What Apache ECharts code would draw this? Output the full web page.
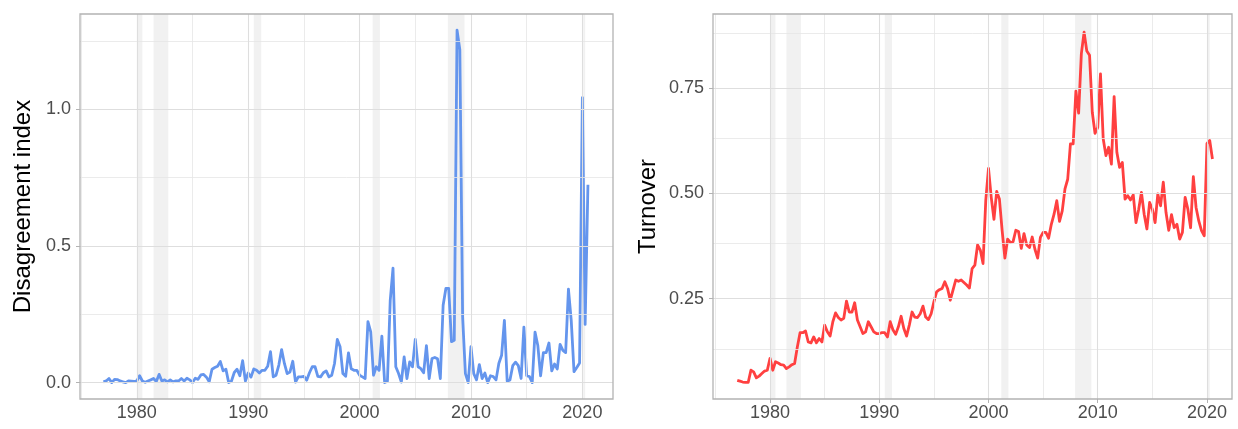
<!DOCTYPE html>
<html>
<head>
<meta charset="utf-8">
<script src="https://cdn.jsdelivr.net/npm/echarts@6/dist/echarts.min.js"></script>
<style>
  html, body { margin: 0; padding: 0; background: #fff; }
  #chart { width: 1238px; height: 429px; }
</style>
</head>
<body>
<div id="chart"></div>
<script>
// Quarterly series, 1977 Q1 through 2020 Q3
const disagreement = [
  0.003, 0.006, 0.015, 0.000,   // 1977
  0.012, 0.011, 0.006, 0.003,   // 1978
  0.000, 0.006, 0.005, 0.004,   // 1979
  0.006, 0.025, 0.006, 0.001,   // 1980
  0.006, 0.010, 0.015, 0.004,   // 1981
  0.030, 0.006, 0.010, 0.003,   // 1982
  0.010, 0.003, 0.006, 0.006,   // 1983
  0.015, 0.006, 0.016, 0.010,   // 1984
  0.000, 0.016, 0.012, 0.028,   // 1985
  0.030, 0.020, 0.003, 0.049,   // 1986
  0.055, 0.060, 0.077, 0.043,   // 1987
  0.049, 0.000, 0.006, 0.037,   // 1988
  0.049, 0.025, 0.080, 0.006,   // 1989
  0.035, 0.020, 0.050, 0.045,   // 1990
  0.035, 0.045, 0.045, 0.060,   // 1991
  0.113, 0.021, 0.027, 0.064,   // 1992
  0.121, 0.070, 0.033, 0.039,   // 1993
  0.078, 0.002, 0.021, 0.021,   // 1994
  0.023, 0.009, 0.036, 0.058,   // 1995
  0.058, 0.023, 0.021, 0.036,   // 1996
  0.043, 0.021, 0.027, 0.070,   // 1997
  0.158, 0.131, 0.033, 0.023,   // 1998
  0.109, 0.051, 0.045, 0.045,   // 1999
  0.027, 0.021, 0.015, 0.223,   // 2000
  0.186, 0.027, 0.058, 0.045,   // 2001
  0.170, 0.000, 0.005, 0.300,   // 2002
  0.419, 0.058, 0.033, 0.002,   // 2003
  0.094, 0.015, 0.076, 0.058,   // 2004
  0.158, 0.058, 0.051, 0.036,   // 2005
  0.135, 0.015, 0.088, 0.092,   // 2006
  0.087, 0.015, 0.283, 0.345,   // 2007
  0.345, 0.150, 0.155, 1.290,   // 2008
  1.218, 0.240, 0.033, 0.000,   // 2009
  0.132, 0.033, 0.010, 0.066,   // 2010
  0.015, 0.035, 0.000, 0.025,   // 2011
  0.022, 0.010, 0.070, 0.100,   // 2012
  0.228, 0.005, 0.010, 0.062,   // 2013
  0.075, 0.062, 0.015, 0.203,   // 2014
  0.025, 0.022, 0.000, 0.185,   // 2015
  0.136, 0.025, 0.110, 0.110,   // 2016
  0.145, 0.043, 0.068, 0.050,   // 2017
  0.140, 0.118, 0.110, 0.342,   // 2018
  0.228, 0.040, 0.055, 0.072,   // 2019
  1.043, 0.213, 0.724           // 2020
];

const turnover = [
  0.056, 0.054, 0.052, 0.051,   // 1977
  0.051, 0.080, 0.076, 0.062,   // 1978
  0.066, 0.072, 0.078, 0.080,   // 1979
  0.108, 0.080, 0.100, 0.097,   // 1980
  0.093, 0.092, 0.084, 0.088,   // 1981
  0.093, 0.096, 0.135, 0.169,   // 1982
  0.169, 0.173, 0.147, 0.145,   // 1983
  0.159, 0.145, 0.155, 0.147,   // 1984
  0.187, 0.171, 0.161, 0.195,   // 1985
  0.216, 0.205, 0.199, 0.203,   // 1986
  0.244, 0.218, 0.218, 0.240,   // 1987
  0.199, 0.183, 0.167, 0.171,   // 1988
  0.195, 0.183, 0.171, 0.167,   // 1989
  0.167, 0.169, 0.169, 0.159,   // 1990
  0.195, 0.176, 0.165, 0.183,   // 1991
  0.208, 0.179, 0.161, 0.187,   // 1992
  0.218, 0.206, 0.205, 0.214,   // 1993
  0.232, 0.206, 0.200, 0.214,   // 1994
  0.242, 0.266, 0.271, 0.274,   // 1995
  0.290, 0.274, 0.246, 0.270,   // 1996
  0.294, 0.291, 0.294, 0.288,   // 1997
  0.282, 0.275, 0.321, 0.329,   // 1998
  0.377, 0.365, 0.333, 0.483,   // 1999
  0.559, 0.490, 0.438, 0.504,   // 2000
  0.486, 0.411, 0.346, 0.391,   // 2001
  0.383, 0.385, 0.412, 0.409,   // 2002
  0.369, 0.404, 0.377, 0.371,   // 2003
  0.396, 0.367, 0.346, 0.395,   // 2004
  0.407, 0.407, 0.393, 0.426,   // 2005
  0.450, 0.482, 0.433, 0.458,   // 2006
  0.510, 0.533, 0.617, 0.617,   // 2007
  0.742, 0.690, 0.831, 0.882,   // 2008
  0.837, 0.827, 0.692, 0.642,   // 2009
  0.656, 0.783, 0.629, 0.589,   // 2010
  0.609, 0.569, 0.729, 0.597,   // 2011
  0.561, 0.573, 0.486, 0.494,   // 2012
  0.484, 0.496, 0.430, 0.462,   // 2013
  0.502, 0.450, 0.415, 0.478,   // 2014
  0.462, 0.430, 0.498, 0.470,   // 2015
  0.526, 0.454, 0.412, 0.449,   // 2016
  0.418, 0.426, 0.391, 0.407,   // 2017
  0.490, 0.462, 0.418, 0.539,   // 2018
  0.466, 0.434, 0.411, 0.399,   // 2019
  0.618, 0.625, 0.581           // 2020
];

// Quarter start dates as decimal years
const quarters = disagreement.map((_, i) => 1977 + i / 4);

// Tick labels and gridline positions
const yearTicks = [1980, 1990, 2000, 2010, 2020];
const yearMinor = [1975, 1985, 1995, 2005, 2015];
const disagreementTicks = [0, 0.5, 1.0];
const disagreementMinor = [0.25, 0.75, 1.25];
const turnoverTicks = [0.25, 0.5, 0.75];
const turnoverMinor = [0.125, 0.375, 0.625, 0.875];

// NBER recessions (start, end) in decimal years
const recessions = [
  [1980.00, 1980.50],
  [1981.50, 1982.83],
  [1990.50, 1991.17],
  [2001.17, 2001.83],
  [2007.92, 2009.42],
  [2020.08, 2020.25]
];

const FONT = '"Liberation Sans", Arial, sans-serif';
const MAJOR = { color: '#dedede', width: 1.1, type: 'solid' };
const MINOR = { color: '#e6e6e6', width: 0.8, type: 'solid' };

function gridLines(xMajor, xMinor, yMajor, yMinor) {
  const d = [];
  xMinor.forEach(v => d.push({ xAxis: v, lineStyle: MINOR }));
  yMinor.forEach(v => d.push({ yAxis: v, lineStyle: MINOR }));
  xMajor.forEach(v => d.push({ xAxis: v, lineStyle: MAJOR }));
  yMajor.forEach(v => d.push({ yAxis: v, lineStyle: MAJOR }));
  return d;
}

function xAxisFor(gridIndex, min, max) {
  return {
    type: 'value', gridIndex, min, max,
    axisLine: { show: false },
    splitLine: { show: false },
    axisTick: { show: true, length: 4, customValues: yearTicks,
                lineStyle: { color: '#b3b3b3', width: 1 } },
    axisLabel: { customValues: yearTicks, margin: 5, fontSize: 18,
                 color: '#4d4d4d', fontFamily: FONT,
                 formatter: v => String(Math.round(v)) }
  };
}

function yAxisFor(gridIndex, min, max, ticks, digits, name, gap) {
  return {
    type: 'value', gridIndex, min, max,
    name, nameLocation: 'middle', nameGap: gap,
    nameTextStyle: { fontSize: 24, color: '#000', fontFamily: FONT },
    axisLine: { show: false },
    splitLine: { show: false },
    axisTick: { show: true, length: 4, customValues: ticks,
                lineStyle: { color: '#b3b3b3', width: 1 } },
    axisLabel: { customValues: ticks, margin: 9, fontSize: 18,
                 color: '#4d4d4d', fontFamily: FONT,
                 formatter: v => v.toFixed(digits) }
  };
}

function panelSeries(idx, values, color, yMajor, yMinor) {
  return [
    {
      type: 'line', xAxisIndex: idx, yAxisIndex: idx, data: [], z: 1, silent: true,
      markLine: { silent: true, symbol: ['none', 'none'], label: { show: false },
                  animation: false, data: gridLines(yearTicks, yearMinor, yMajor, yMinor) }
    },
    {
      type: 'line', xAxisIndex: idx, yAxisIndex: idx, data: [], z: 2, silent: true,
      markArea: { silent: true, animation: false,
                  itemStyle: { color: 'rgba(0,0,0,0.055)' },
                  data: recessions.map(([a, b]) => [{ xAxis: a }, { xAxis: b }]) }
    },
    {
      type: 'line', xAxisIndex: idx, yAxisIndex: idx, z: 3,
      showSymbol: false, symbol: 'none',
      lineStyle: { color, width: 2.8, join: 'round' },
      data: quarters.map((q, i) => [q, values[i]])
    }
  ];
}

const chart = echarts.init(document.getElementById('chart'), null, { renderer: 'canvas' });
chart.setOption({
  animation: false,
  backgroundColor: '#ffffff',
  grid: [
    { left: 80, top: 14, width: 533, height: 385, show: true, z: 10,
      backgroundColor: 'transparent', borderColor: '#b3b3b3', borderWidth: 1.3 },
    { left: 713, top: 14, width: 519, height: 385, show: true, z: 10,
      backgroundColor: 'transparent', borderColor: '#b3b3b3', borderWidth: 1.3 }
  ],
  xAxis: [
    xAxisFor(0, 1974.90, 2022.75),
    xAxisFor(1, 1974.78, 2022.29)
  ],
  yAxis: [
    yAxisFor(0, -0.060, 1.349, disagreementTicks, 1, 'Disagreement index', 45),
    yAxisFor(1, 0.0117, 0.925, turnoverTicks, 2, 'Turnover', 53)
  ],
  series: [
    ...panelSeries(0, disagreement, '#6495ED', disagreementTicks, disagreementMinor),
    ...panelSeries(1, turnover, '#FF4040', turnoverTicks, turnoverMinor)
  ]
});
</script>
</body>
</html>
